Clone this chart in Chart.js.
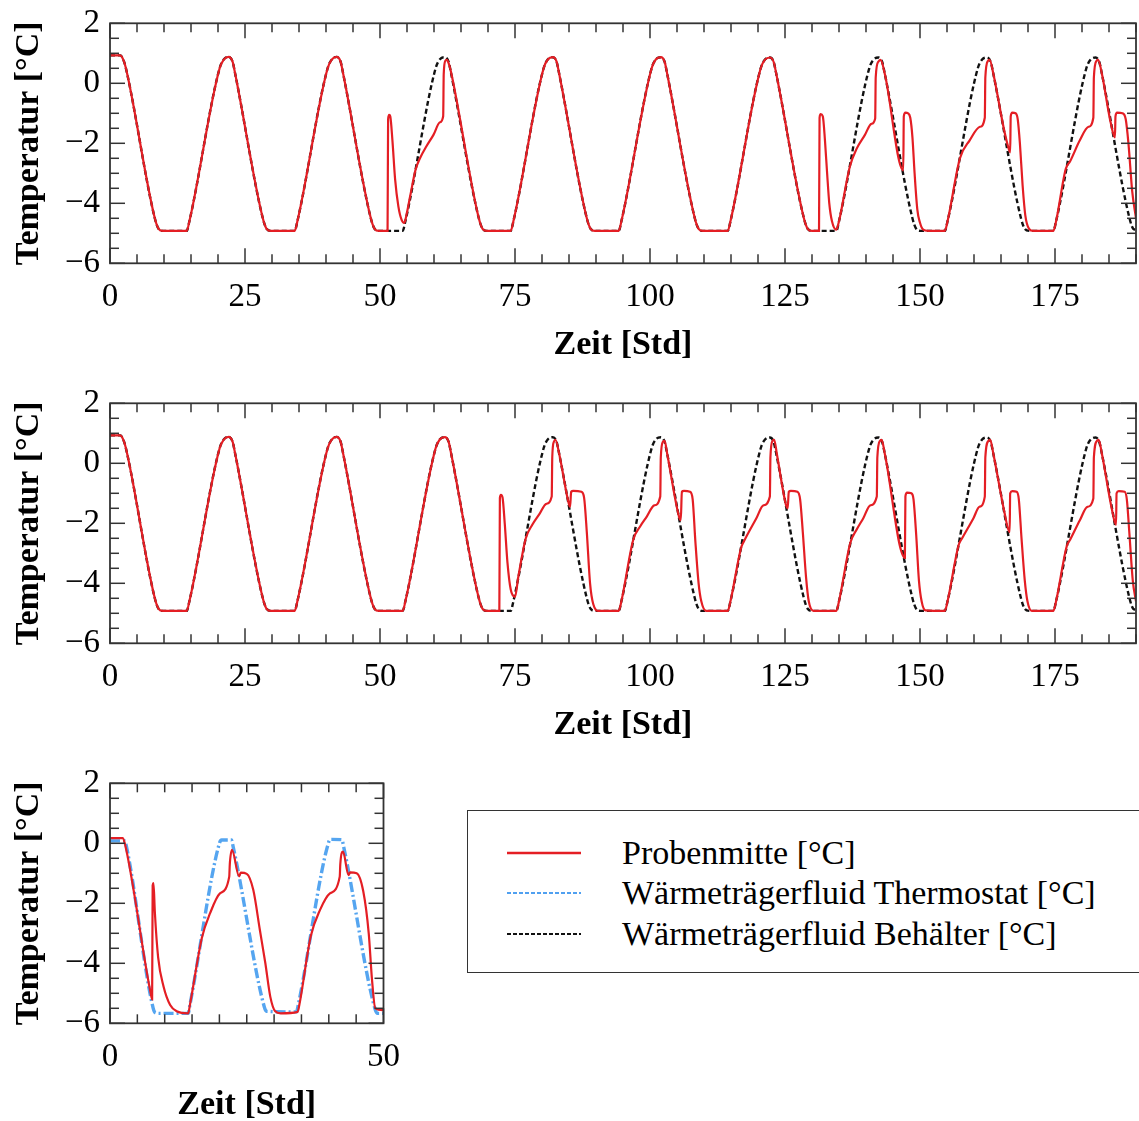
<!DOCTYPE html>
<html lang="de">
<head>
<meta charset="utf-8">
<title>Temperaturverlauf Probenmitte / Wärmeträgerfluid</title>
<script src="https://cdn.jsdelivr.net/npm/chart.js@4.4.1/dist/chart.umd.min.js"></script>
<style>
  html, body { margin: 0; padding: 0; background: #fff; overflow: hidden; }
  body { width: 1139px; height: 1121px; position: relative; font-family: "Liberation Serif", "Times New Roman", serif; }
  canvas { position: absolute; left: 0; }
  #legendBox { position: absolute; left: 467px; top: 810px; width: 720px; height: 163px; border: 1.5px solid #333; box-sizing: border-box; }
  .legSample { position: absolute; left: 505px; width: 78px; height: 10px; }
  .legText { position: absolute; left: 622px; height: 40px; line-height: 40px; font-size: 34px; color: #000; white-space: nowrap; }
</style>
</head>
<body>
<canvas id="chartOben" width="1139" height="370" style="top:0px"></canvas>
<canvas id="chartMitte" width="1139" height="370" style="top:380px"></canvas>
<canvas id="chartKlein" width="414" height="370" style="top:760px"></canvas>

<div id="legendBox"></div>
<svg class="legSample" style="top:848px"><line x1="2" y1="5" x2="76" y2="5" stroke="rgb(228,30,36)" stroke-width="2.5"/></svg>
<div class="legText" style="top:833px">Probenmitte [°C]</div>
<svg class="legSample" style="top:888px"><line x1="2" y1="5" x2="76" y2="5" stroke="rgb(80,160,240)" stroke-width="2" stroke-dasharray="4 2"/></svg>
<div class="legText" style="top:873px">Wärmeträgerfluid Thermostat [°C]</div>
<svg class="legSample" style="top:929px"><line x1="2" y1="5" x2="76" y2="5" stroke="#111" stroke-width="2" stroke-dasharray="4 2"/></svg>
<div class="legText" style="top:914px">Wärmeträgerfluid Behälter [°C]</div>

<script>
// Achsenbeschriftung
const xTicksLang = [0, 25, 50, 75, 100, 125, 150, 175];
const xTicksKurz = [0, 50];
const yTicks = [-6, -4, -2, 0, 2];

// Wärmeträgerfluid Behälter (oben und Mitte gleich)
const behaelterZeit = [
  0, 1.9, 2.6, 3.2, 8.3, 9.0, 9.8,
  14.2, 14.7, 20.3, 21.1, 22.0, 22.7, 23.2, 28.3, 29.0, 29.8,
  34.2, 34.7, 40.3, 41.1, 42.0, 42.7, 43.2, 48.3, 49.0, 49.8,
  54.2, 54.7, 60.3, 61.1, 62.0, 62.7, 63.2, 68.3, 69.0, 69.8,
  74.2, 74.7, 80.3, 81.1, 82.0, 82.7, 83.2, 88.3, 89.0, 89.8,
  94.2, 94.7, 100.3, 101.1, 102.0, 102.7, 103.2, 108.3, 109.0, 109.8,
  114.4, 114.9, 120.5, 121.3, 122.2, 122.9, 123.4, 128.5, 129.2, 130.0,
  134.5, 135.0, 140.6, 141.4, 142.3, 143.0, 143.5, 148.6, 149.3, 150.1,
  154.6, 155.1, 160.7, 161.5, 162.4, 163.1, 163.6, 168.7, 169.4, 170.2,
  174.7, 175.2, 180.8, 181.6, 182.5, 183.2, 183.7, 188.8, 189.5, 190.0
];
const behaelterTemp = [
  0.93, 0.93, 0.72, 0.3, -4.5, -4.85, -4.92,
  -4.92, -4.6, 0.5, 0.8, 0.88, 0.72, 0.3, -4.5, -4.85, -4.92,
  -4.92, -4.6, 0.5, 0.8, 0.88, 0.72, 0.3, -4.5, -4.85, -4.92,
  -4.92, -4.6, 0.5, 0.8, 0.87, 0.72, 0.3, -4.5, -4.85, -4.92,
  -4.92, -4.6, 0.5, 0.8, 0.87, 0.72, 0.3, -4.5, -4.85, -4.92,
  -4.92, -4.6, 0.5, 0.8, 0.87, 0.72, 0.3, -4.5, -4.85, -4.92,
  -4.92, -4.6, 0.5, 0.79, 0.86, 0.71, 0.3, -4.5, -4.85, -4.92,
  -4.92, -4.6, 0.5, 0.79, 0.86, 0.71, 0.3, -4.5, -4.85, -4.92,
  -4.92, -4.6, 0.5, 0.79, 0.86, 0.71, 0.3, -4.5, -4.85, -4.92,
  -4.92, -4.6, 0.5, 0.79, 0.86, 0.71, 0.3, -4.5, -4.85, -4.88
];

// Probenmitte, oberes Diagramm
const probeObenZeit = [
  0, 1.9, 2.6, 3.2, 8.3, 9.0, 9.8,
  14.2, 14.7, 20.3, 21.1, 22.0, 22.7, 23.2, 28.3, 29.0, 29.8,
  34.2, 34.7, 40.3, 41.1, 42.0, 42.7, 43.2, 48.3, 49.0, 49.8,
  51.4, 51.5, 51.7, 51.9, 52.3, 52.8, 53.4, 54.0, 54.5, 55.0, 55.6, 56.6,
  57.4, 58.6, 59.9, 61.1, 61.7, 61.8, 62.1, 62.4, 62.8, 63.3, 68.3, 69.0, 69.8,
  74.2, 74.7, 80.3, 81.1, 82.0, 82.7, 83.2, 88.3, 89.0, 89.8,
  94.2, 94.7, 100.3, 101.1, 102.0, 102.7, 103.2, 108.3, 109.0, 109.8,
  114.4, 114.9, 120.5, 121.3, 122.2, 122.9, 123.4, 128.5, 129.2, 130.0,
  131.3, 131.4, 131.6, 132.0, 132.4, 132.8, 133.2, 133.7, 134.5, 135.0,
  137.0, 138.3, 139.8, 141.0, 141.7, 141.8, 142.3, 142.7, 143.5,
  146.9, 147.0, 147.3, 147.8, 148.2, 148.6, 149.0, 149.5, 150.0, 150.6, 151.5,
  154.6, 155.1, 157.4, 159.2, 161.1, 162.0, 162.1, 162.6, 162.9, 163.6,
  165.5, 166.3, 166.7, 166.8, 167.1, 167.7, 168.1, 168.5, 169.0, 169.5, 170.2, 171.0,
  174.7, 175.2, 177.0, 177.8, 179.6, 181.2, 182.1, 182.2, 182.7, 183.0, 183.7,
  185.3, 186.1, 186.2, 186.5, 187.5, 188.1, 188.6, 189.3, 190.0
];
const probeObenTemp = [
  0.93, 0.93, 0.72, 0.3, -4.5, -4.85, -4.92,
  -4.92, -4.6, 0.5, 0.8, 0.88, 0.72, 0.3, -4.5, -4.85, -4.92,
  -4.92, -4.6, 0.5, 0.8, 0.88, 0.72, 0.3, -4.5, -4.85, -4.92,
  -4.92, -1.2, -1.05, -1.1, -1.9, -3.2, -4.1, -4.55, -4.65, -4.3, -3.75, -2.87,
  -2.5, -2.1, -1.72, -1.3, -1.1, 0.3, 0.75, 0.78, 0.62, 0.25, -4.5, -4.85, -4.92,
  -4.92, -4.6, 0.5, 0.8, 0.87, 0.72, 0.3, -4.5, -4.85, -4.92,
  -4.92, -4.6, 0.5, 0.8, 0.87, 0.72, 0.3, -4.5, -4.85, -4.92,
  -4.92, -4.6, 0.5, 0.79, 0.86, 0.71, 0.3, -4.5, -4.85, -4.92,
  -4.92, -1.15, -1.03, -1.1, -1.9, -3.0, -4.0, -4.6, -4.88, -4.6,
  -2.78, -2.17, -1.72, -1.35, -1.17, 0.2, 0.72, 0.78, 0.3,
  -2.9, -1.1, -0.98, -1.0, -1.15, -1.8, -3.0, -4.2, -4.65, -4.88, -4.92,
  -4.92, -4.6, -2.5, -1.9, -1.45, -1.15, 0.2, 0.75, 0.78, 0.3,
  -1.49, -2.1, -2.3, -1.1, -0.98, -1.0, -1.2, -2.0, -3.4, -4.4, -4.85, -4.92,
  -4.92, -4.6, -2.85, -2.6, -1.9, -1.45, -1.15, 0.2, 0.75, 0.78, 0.3,
  -1.3, -1.8, -1.1, -0.98, -1.0, -1.2, -2.0, -3.6, -4.5
];

// Probenmitte, mittleres Diagramm
const probeMitteZeit = [
  0, 1.9, 2.6, 3.2, 8.3, 9.0, 9.8,
  14.2, 14.7, 20.3, 21.1, 22.0, 22.7, 23.2, 28.3, 29.0, 29.8,
  34.2, 34.7, 40.3, 41.1, 42.0, 42.7, 43.2, 48.3, 49.0, 49.8,
  54.2, 54.7, 60.3, 61.1, 62.0, 62.7, 63.2, 68.3, 69.0, 69.8,
  72.1, 72.2, 72.4, 72.7, 73.1, 73.6, 74.2, 75.0, 75.6, 77.0, 78.2, 79.6, 80.8, 81.8,
  81.9, 82.2, 82.5, 83.2, 84.9, 85.2, 85.4, 85.8, 87.3, 87.8, 88.3, 88.9, 89.5, 90.5,
  94.2, 94.7, 96.9, 98.2, 99.4, 100.8, 101.9, 102.0, 102.4, 102.7, 103.2,
  105.4, 105.7, 105.9, 106.3, 107.4, 107.9, 108.4, 109.0, 109.5, 110.4,
  114.4, 114.9, 116.9, 117.4, 119.7, 121.0, 122.2, 122.3, 122.7, 123.0, 123.5,
  125.2, 125.5, 125.7, 126.1, 127.3, 127.8, 128.3, 128.9, 129.4, 130.3,
  134.5, 135.0, 137.1, 138.3, 139.5, 140.8, 142.0, 142.1, 142.6, 142.9, 143.5,
  147.2, 147.3, 147.6, 148.4, 148.8, 149.3, 149.8, 150.3, 151.0,
  154.6, 155.1, 157.2, 157.8, 159.9, 161.0, 162.0, 162.1, 162.7, 163.0, 163.6,
  165.6, 166.6, 166.7, 167.1, 167.9, 168.3, 168.8, 169.4, 169.9, 170.7,
  174.7, 175.2, 177.2, 177.8, 179.6, 181.0, 182.1, 182.2, 182.8, 183.1, 183.7,
  185.5, 186.3, 186.4, 186.8, 187.9, 188.3, 188.8, 189.4, 190.0
];
const probeMitteTemp = [
  0.93, 0.93, 0.72, 0.3, -4.5, -4.85, -4.92,
  -4.92, -4.6, 0.5, 0.8, 0.88, 0.72, 0.3, -4.5, -4.85, -4.92,
  -4.92, -4.6, 0.5, 0.8, 0.88, 0.72, 0.3, -4.5, -4.85, -4.92,
  -4.92, -4.6, 0.5, 0.8, 0.87, 0.72, 0.3, -4.5, -4.85, -4.92,
  -4.92, -1.15, -1.05, -1.15, -2.0, -3.3, -4.2, -4.45, -3.8, -2.5, -2.05, -1.67, -1.35, -1.11,
  0.2, 0.72, 0.78, 0.3, -1.3, -1.45, -0.95, -0.92, -0.95, -1.15, -2.3, -4.0, -4.7, -4.92,
  -4.92, -4.6, -2.55, -2.1, -1.78, -1.4, -1.11, 0.2, 0.72, 0.75, 0.3,
  -1.8, -1.9, -0.95, -0.92, -0.95, -1.2, -2.6, -4.0, -4.6, -4.92,
  -4.92, -4.6, -2.8, -2.6, -1.83, -1.4, -1.11, 0.2, 0.75, 0.78, 0.3,
  -1.4, -1.5, -0.95, -0.92, -0.95, -1.2, -2.3, -3.8, -4.6, -4.92,
  -4.92, -4.6, -2.65, -2.2, -1.83, -1.4, -1.11, 0.2, 0.75, 0.78, 0.3,
  -3.15, -1.1, -0.98, -1.0, -1.2, -2.4, -3.9, -4.6, -4.9,
  -4.92, -4.6, -2.7, -2.5, -1.83, -1.45, -1.11, 0.2, 0.75, 0.78, 0.3,
  -1.6, -2.3, -1.0, -0.93, -0.95, -1.2, -2.5, -3.9, -4.6, -4.92,
  -4.92, -4.6, -2.75, -2.55, -1.9, -1.45, -1.17, 0.2, 0.75, 0.78, 0.3,
  -1.5, -2.05, -1.0, -0.93, -0.95, -1.2, -2.4, -3.9, -4.6
];

// kleines Diagramm: Thermostat und Probenmitte
const thermostatKleinZeit = [0, 2.7, 3.0, 7.9, 8.3, 9.0, 14.3, 14.6, 20.0, 20.4, 22.2, 22.5, 28.2, 28.6, 34.1, 34.4, 40.0, 40.4, 42.4, 42.7, 48.5, 48.9, 50];
const thermostatKleinTemp = [0.08, 0.08, -0.1, -5.5, -5.65, -5.67, -5.67, -5.4, 0.0, 0.11, 0.11, -0.1, -5.45, -5.6, -5.62, -5.4, 0.05, 0.13, 0.12, -0.1, -5.55, -5.67, -5.67];

const probeKleinZeit = [
  0, 2.3, 2.7, 7.55, 7.7, 7.8, 7.95, 8.2, 8.8, 9.8, 11.0, 12.2, 14.3, 14.6,
  16.8, 18.3, 20.1, 21.8, 21.9, 22.3, 23.6, 23.9, 25.0, 26.2, 27.4, 28.4, 29.3, 30.2, 31.2,
  34.3, 34.6, 36.7, 38.4, 40.2, 42.0, 42.1, 42.6, 43.6, 43.9, 45.1, 46.3, 47.3, 47.9, 48.5, 50
];
const probeKleinTemp = [
  0.17, 0.17, 0.0, -5.1, -5.2, -1.4, -1.33, -2.3, -3.8, -4.78, -5.39, -5.6, -5.67, -5.4,
  -3.15, -2.33, -1.67, -1.11, -0.7, -0.22, -1.1, -0.98, -1.02, -1.56, -2.89, -4.0, -5.11, -5.6, -5.67,
  -5.62, -5.4, -3.1, -2.22, -1.67, -1.11, -0.7, -0.28, -1.06, -0.97, -1.0, -1.6, -3.0, -4.55, -5.5, -5.56
];

const ROT = 'rgb(228,30,36)';
const BLAU = 'rgb(85,165,240)';
const SCHWARZ = '#111';

const toPoints = (zeit, temp) => zeit.map((t, i) => ({ x: t, y: temp[i] }));
const minusLabel = v => (v < 0 ? '\u2212' + Math.abs(v) : String(v));

// Rahmen und nach innen zeigende Striche, wie im Original
const innenStriche = {
    id: 'innenStriche',
    afterDatasetsDraw(chart, args, opts) {
        const { ctx, chartArea: a, scales: { x, y } } = chart;
        ctx.save();
        ctx.strokeStyle = '#333';
        ctx.lineWidth = 1.5;
        const strich = (x1, y1, x2, y2) => {
            ctx.beginPath();
            ctx.moveTo(x1, y1);
            ctx.lineTo(x2, y2);
            ctx.stroke();
        };
        for (let v = x.min; v <= x.max + 1e-6; v += opts.xMinor) {
            const len = Math.abs(v % opts.xMajor) < 1e-6 ? 15 : 9;
            const px = x.getPixelForValue(v);
            strich(px, a.bottom, px, a.bottom - len);
            strich(px, a.top, px, a.top + len);
        }
        for (let v = y.min; v <= y.max + 1e-6; v += opts.yMinor) {
            const len = Math.abs(v % opts.yMajor) < 1e-6 ? 15 : 9;
            const py = y.getPixelForValue(v);
            strich(a.left, py, a.left + len, py);
            strich(a.right, py, a.right - len, py);
        }
        ctx.lineWidth = 1.8;
        ctx.strokeRect(a.left, a.top, a.right - a.left, a.bottom - a.top);
        ctx.restore();
    }
};

function lineSet(label, points, color, width, dash) {
    return {
        label: label,
        data: points,
        borderColor: color,
        borderWidth: width,
        borderDash: dash,
        pointRadius: 0,
        fill: false,
        tension: 0.4,
        cubicInterpolationMode: 'monotone'
    };
}

function makeChart(id, datasets, xMax, xTicks, xMinor, xMajor, padRight) {
    const ctx = document.getElementById(id).getContext('2d');
    return new Chart(ctx, {
        type: 'line',
        data: { datasets: datasets },
        options: {
            responsive: false,
            animation: false,
            layout: { autoPadding: false, padding: { top: 23.3, right: padRight, left: 0, bottom: 0 } },
            plugins: {
                legend: { display: false },
                tooltip: { enabled: false },
                innenStriche: { xMinor: xMinor, xMajor: xMajor, yMinor: 0.5, yMajor: 2 }
            },
            scales: {
                x: {
                    type: 'linear',
                    min: 0,
                    max: xMax,
                    afterBuildTicks: s => { s.ticks = xTicks.map(v => ({ value: v })); },
                    afterFit: s => { s.height = 106.7; },
                    grid: { display: false, drawTicks: false },
                    border: { display: false },
                    ticks: {
                        color: '#000',
                        padding: 14,
                        maxRotation: 0,
                        autoSkip: false,
                        font: { family: 'Liberation Serif', size: 33 }
                    },
                    title: {
                        display: true,
                        text: 'Zeit [Std]',
                        color: '#000',
                        padding: { top: 0, bottom: 4 },
                        font: { family: 'Liberation Serif', size: 34, weight: 'bold' }
                    }
                },
                y: {
                    min: -6,
                    max: 2,
                    afterBuildTicks: s => { s.ticks = yTicks.map(v => ({ value: v })); },
                    afterFit: s => { s.width = 110; },
                    grid: { display: false, drawTicks: false },
                    border: { display: false },
                    ticks: {
                        color: '#000',
                        padding: 10,
                        callback: minusLabel,
                        font: { family: 'Liberation Serif', size: 33, lineHeight: 0.8 }
                    },
                    title: {
                        display: true,
                        text: 'Temperatur [°C]',
                        color: '#000',
                        padding: { top: 9, bottom: 0 },
                        font: { family: 'Liberation Serif', size: 34, weight: 'bold' }
                    }
                }
            }
        },
        plugins: [innenStriche]
    });
}

makeChart('chartOben', [
    lineSet('Probenmitte [°C]', toPoints(probeObenZeit, probeObenTemp), ROT, 2.2, []),
    lineSet('Wärmeträgerfluid Behälter [°C]', toPoints(behaelterZeit, behaelterTemp), SCHWARZ, 2.4, [5, 3])
], 190, xTicksLang, 5, 25, 3);

makeChart('chartMitte', [
    lineSet('Probenmitte [°C]', toPoints(probeMitteZeit, probeMitteTemp), ROT, 2.2, []),
    lineSet('Wärmeträgerfluid Behälter [°C]', toPoints(behaelterZeit, behaelterTemp), SCHWARZ, 2.4, [5, 3])
], 190, xTicksLang, 5, 25, 3);

makeChart('chartKlein', [
    lineSet('Probenmitte [°C]', toPoints(probeKleinZeit, probeKleinTemp), ROT, 2.2, []),
    lineSet('Wärmeträgerfluid Thermostat [°C]', toPoints(thermostatKleinZeit, thermostatKleinTemp), BLAU, 3.4, [10, 3, 2, 3])
], 50, xTicksKurz, 5, 50, 30.5);
</script>
</body>
</html>
